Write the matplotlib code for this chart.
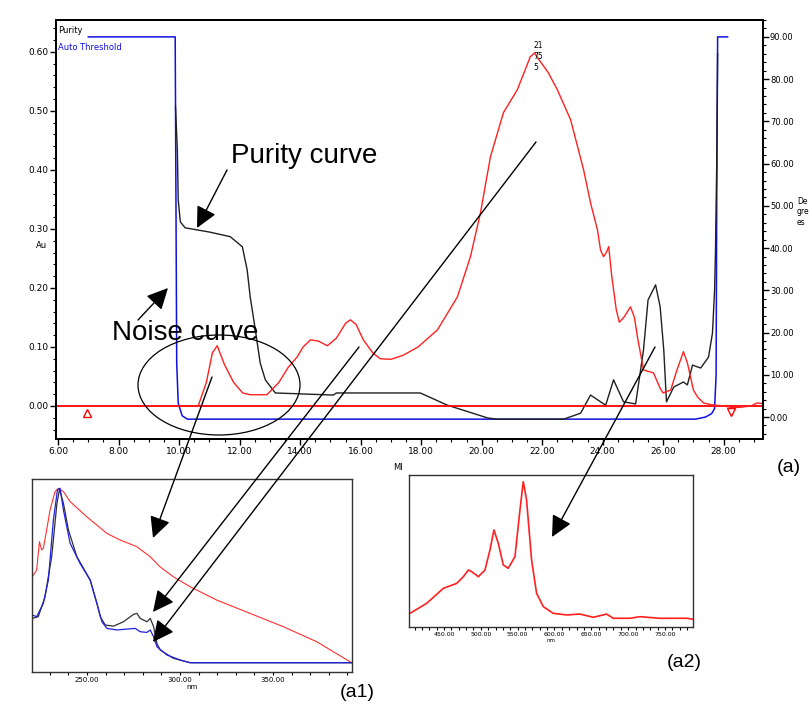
import matplotlib
matplotlib.use('Agg')
import matplotlib.pyplot as plt
from matplotlib.patches import Ellipse, FancyArrowPatch
from matplotlib.ticker import MultipleLocator, FormatStrFormatter

# %% main chromatogram, Au (left axis)
red_t = [10.63, 10.9, 11.1, 11.26, 11.5, 11.8, 12.1, 12.35, 12.9, 13.3, 13.6, 13.9, 14.1, 14.34,
         14.6, 14.9, 15.2, 15.5, 15.66, 15.85, 16.09, 16.4, 16.65, 17.0, 17.41, 17.9, 18.54,
         19.2, 19.63, 19.96, 20.29, 20.72, 21.18, 21.61, 21.75, 21.85, 22.2, 22.5, 22.94,
         23.37, 23.6, 23.83, 23.93, 24.03, 24.12, 24.2, 24.3, 24.45, 24.55, 24.7, 24.92, 25.05,
         25.15, 25.35, 25.68, 25.9, 26.0, 26.25, 26.45, 26.67, 26.8, 27.0, 27.14, 27.34, 27.6,
         28.0, 28.3, 28.6, 28.9, 29.1, 29.3]
red_au = [0.0, 0.04, 0.09, 0.102, 0.07, 0.04, 0.022, 0.019, 0.019, 0.04, 0.065, 0.083, 0.10, 0.112,
          0.11, 0.102, 0.115, 0.14, 0.146, 0.138, 0.112, 0.09, 0.080, 0.079, 0.086, 0.10, 0.129,
          0.185, 0.253, 0.327, 0.422, 0.497, 0.536, 0.592, 0.598, 0.590, 0.565, 0.536, 0.485,
          0.40, 0.344, 0.298, 0.264, 0.253, 0.26, 0.27, 0.22, 0.163, 0.142, 0.15, 0.168, 0.15,
          0.117, 0.061, 0.056, 0.03, 0.022, 0.027, 0.06, 0.092, 0.073, 0.027, 0.015, 0.005, 0.002,
          0.0, -0.003, -0.002, 0.0, 0.005, 0.004]

# purity (black) and auto threshold (blue), degrees (right axis)
pur_t = [9.88, 9.94, 9.97, 10.04, 10.2, 10.6, 11.0, 11.69, 12.09, 12.25, 12.35, 12.52, 12.68,
         12.85, 13.18, 15.1, 15.2, 17.97, 18.87, 20.19, 20.5, 22.71, 23.27, 23.6, 24.1, 24.36,
         24.69, 25.09, 25.35, 25.5, 25.75, 25.9, 26.02, 26.11, 26.35, 26.67, 26.8, 26.97,
         27.24, 27.5, 27.63, 27.7, 27.73, 27.77, 27.8]
pur_deg = [73.5, 63.3, 51.4, 46.2, 44.8, 44.3, 43.8, 42.7, 40.3, 34.8, 28.4, 20.6, 12.8,
           8.8, 5.7, 5.2, 5.7, 5.7, 2.8, -0.2, -0.5, -0.5, 0.9, 5.2, 2.8, 8.8,
           3.6, 3.1, 15.9, 27.7, 31.3, 26.1, 15.9, 3.6, 7.1, 8.3, 7.6, 12.3,
           11.6, 14.2, 19.9, 30.1, 39.6, 60.0, 86.0]
thr_t = [7.0, 9.87, 9.92, 9.97, 10.1, 10.27, 27.07, 27.4, 27.6, 27.7, 27.75, 27.77, 27.8, 28.13]
thr_deg = [90, 90, 12.8, 3.3, 0.3, -0.5, -0.5, 0.0, 0.8, 2.0, 10, 50, 90, 90]

start_mark = (6.96, -0.012)
end_mark = (28.23, -0.010)

# %% inset a1: UV spectra
a1_red_nm = [220.6, 222.9, 224.4, 225.6, 226.5, 228.3, 230.1, 232.8, 234.6, 237.3, 240.9, 249.8,
             260.6, 267.7, 276.7, 283.9, 289.2, 296.4, 305.4, 319.7, 337.6, 355.5, 373.5, 392.3]
a1_red = [0.493, 0.531, 0.693, 0.646, 0.655, 0.760, 0.874, 0.979, 0.998, 0.979, 0.922, 0.836,
          0.741, 0.703, 0.665, 0.608, 0.550, 0.493, 0.436, 0.360, 0.284, 0.208, 0.122, 0.002]
a1_blk_nm = [220.6, 223.8, 227.4, 231.0, 233.8, 235.2, 237.3, 240.0, 244.5, 251.7, 255.3, 257.1,
             259.8, 264.3, 269.6, 275.0, 276.8, 278.6, 282.2, 284.0, 285.8, 287.6, 289.4,
             296.5, 305.5, 392.3]
a1_blk = [0.255, 0.265, 0.379, 0.608, 0.912, 0.992, 0.912, 0.760, 0.608, 0.474, 0.341, 0.265,
          0.217, 0.211, 0.236, 0.278, 0.284, 0.255, 0.236, 0.255, 0.208, 0.112, 0.074,
          0.027, 0.002, 0.002]
a1_blu_nm = [220.6, 222.9, 226.5, 229.2, 231.9, 234.1, 235.5, 237.3, 240.9, 246.2, 251.7, 255.3,
             258.0, 260.7, 266.1, 271.4, 275.9, 278.6, 282.2, 284.0, 285.8, 287.6, 293.0,
             300.2, 305.5, 392.3]
a1_blu = [0.274, 0.265, 0.341, 0.474, 0.817, 0.989, 0.998, 0.874, 0.684, 0.570, 0.474, 0.341,
          0.236, 0.198, 0.189, 0.194, 0.198, 0.179, 0.175, 0.189, 0.150, 0.093, 0.046,
          0.017, 0.002, 0.002]

# %% inset a2: fluorescence spectrum
a2_nm = [403.9, 426.5, 449.1, 467.2, 476.3, 483.0, 487.6, 496.6, 505.6, 512.4, 517.8, 523.7,
         530.5, 537.2, 546.3, 553.1, 557.6, 562.1, 568.9, 575.7, 584.8, 598.3, 616.5, 634.5,
         652.6, 666.2, 670.7, 679.8, 702.4, 716.0, 743.1, 779.3, 788.3]
a2_int = [0.094, 0.163, 0.266, 0.300, 0.346, 0.392, 0.381, 0.346, 0.392, 0.530, 0.668, 0.576,
          0.427, 0.404, 0.484, 0.805, 1.0, 0.874, 0.461, 0.232, 0.140, 0.094, 0.083, 0.089,
          0.067, 0.083, 0.089, 0.060, 0.060, 0.071, 0.060, 0.060, 0.053]

# %%
W, H = 809, 717
fig = plt.figure(figsize=(W / 100, H / 100), dpi=100)
ANN = ['Liberation Sans', 'DejaVu Sans']


def ff(px, py):
    return (px / W, 1 - py / H)


def box(l, t, r, b):
    return [l / W, 1 - b / H, (r - l) / W, (b - t) / H]


ax = fig.add_axes(box(56, 20, 763, 439))
ax2 = ax.twinx()
ax.set_zorder(2)
ax.patch.set_visible(False)

ax.axhline(0, color='#ff0000', lw=1.3)
ax.plot(red_t, red_au, color='#ff2020', lw=1.0)
ax.plot(*start_mark, marker='^', ms=6, mfc='none', mec='#ff0000', mew=1)
ax.plot(*end_mark, marker='v', ms=6, mfc='none', mec='#ff0000', mew=1)
ax2.plot(thr_t, thr_deg, color='#1010e0', lw=1.1)
ax2.plot(pur_t, pur_deg, color='#202020', lw=1.0)

ax.set_xlim(5.93, 29.3)
ax.set_ylim(-0.056, 0.654)
ax2.set_ylim(-5.2, 94)
ax.xaxis.set_major_locator(MultipleLocator(2))
ax.xaxis.set_minor_locator(MultipleLocator(0.5))
ax.yaxis.set_major_locator(MultipleLocator(0.1))
ax.yaxis.set_minor_locator(MultipleLocator(0.02))
ax2.yaxis.set_major_locator(MultipleLocator(10))
ax2.yaxis.set_minor_locator(MultipleLocator(2))
ax.xaxis.set_major_formatter(FormatStrFormatter('%.2f'))
ax.yaxis.set_major_formatter(FormatStrFormatter('%.2f'))
ax2.yaxis.set_major_formatter(FormatStrFormatter('%.2f'))
for a in (ax, ax2):
    a.tick_params(which='major', length=4, width=1, labelsize=6.5, pad=1.5)
    a.tick_params(which='minor', length=2, width=0.8)
    for s in a.spines.values():
        s.set_linewidth(1.4)
ax2.tick_params(which='major', labelsize=6, pad=1)

ax.text(0.003, 0.985, 'Purity', transform=ax.transAxes, fontsize=6, ha='left', va='top')
ax.text(0.003, 0.945, 'Auto Threshold', transform=ax.transAxes, fontsize=6, color='#1010e0',
        ha='left', va='top')
ax.text(21.72, 0.618, '21\n75\n5', fontsize=5.5, ha='left', va='top', linespacing=1.3)
fig.text(*ff(36, 245), 'Au', fontsize=6, ha='left', va='center')
fig.text(*ff(797, 212), 'De\ngre\nes', fontsize=5.5, ha='left', va='center', linespacing=1.2)
fig.text(*ff(393, 467), 'Ml', fontsize=6, ha='left', va='center')

# %% inset a1
a1 = fig.add_axes(box(32, 479, 352, 672))
a1.plot(a1_red_nm, a1_red, color='#ff3030', lw=0.8)
a1.plot(a1_blk_nm, a1_blk, color='#303030', lw=0.9)
a1.plot(a1_blu_nm, a1_blu, color='#2020e0', lw=0.9)
a1.set_xlim(220.4, 392.5)
a1.set_ylim(-0.051, 1.051)
a1.set_yticks([])
a1.xaxis.set_major_locator(MultipleLocator(50))
a1.xaxis.set_minor_locator(MultipleLocator(10))
a1.xaxis.set_major_formatter(FormatStrFormatter('%.2f'))
a1.tick_params(which='both', length=2.5, width=0.8, labelsize=5, pad=1)
a1.set_xlabel('nm', fontsize=5, labelpad=1)
for s in a1.spines.values():
    s.set_linewidth(1.0)
    s.set_color('#333333')

# %% inset a2
a2 = fig.add_axes(box(409, 475, 693, 627))
a2.plot(a2_nm, a2_int, color='#ff2020', lw=1.2)
a2.set_xlim(402.5, 788)
a2.set_ylim(0, 1.046)
a2.set_yticks([])
a2.xaxis.set_minor_locator(MultipleLocator(10))
a2.xaxis.set_major_formatter(FormatStrFormatter('%.2f'))
a2.set_xticks(range(450, 751, 50))
a2.tick_params(which='both', length=2.5, width=0.8, labelsize=4.5, pad=1)
a2.set_xlabel('nm', fontsize=4, labelpad=1)
for s in a2.spines.values():
    s.set_linewidth(1.0)
    s.set_color('#333333')

# %% annotations (figure pixels from top-left)
arrows = [((227, 170), (197, 228)),
          ((138, 320), (168, 288)),
          ((212, 377), (153, 538)),
          ((359, 347), (153, 612)),
          ((536, 142), (153, 642)),
          ((655, 347), (552, 537))]
for (p0, p1) in arrows:
    fig.add_artist(FancyArrowPatch(ff(*p0), ff(*p1), transform=fig.transFigure,
                                   arrowstyle='-|>,head_length=0.65,head_width=0.32',
                                   mutation_scale=20, color='black', lw=1.0,
                                   shrinkA=0, shrinkB=0, zorder=10))

cx, cy = ff(219, 385)
fig.add_artist(Ellipse((cx, cy), 162 / W, 100 / H, transform=fig.transFigure,
                       fill=False, ec='black', lw=0.9, zorder=10))

fig.text(*ff(231, 163), 'Purity curve', fontsize=20, family=ANN, va='baseline', zorder=11)
fig.text(*ff(112, 340), 'Noise curve', fontsize=20, family=ANN, va='baseline', zorder=11)
fig.text(*ff(777, 472), '(a)', fontsize=14, family=ANN, va='baseline')
fig.text(*ff(340, 697), '(a1)', fontsize=14, family=ANN, va='baseline')
fig.text(*ff(667, 667), '(a2)', fontsize=14, family=ANN, va='baseline')

fig.savefig('out.png', dpi=100)
